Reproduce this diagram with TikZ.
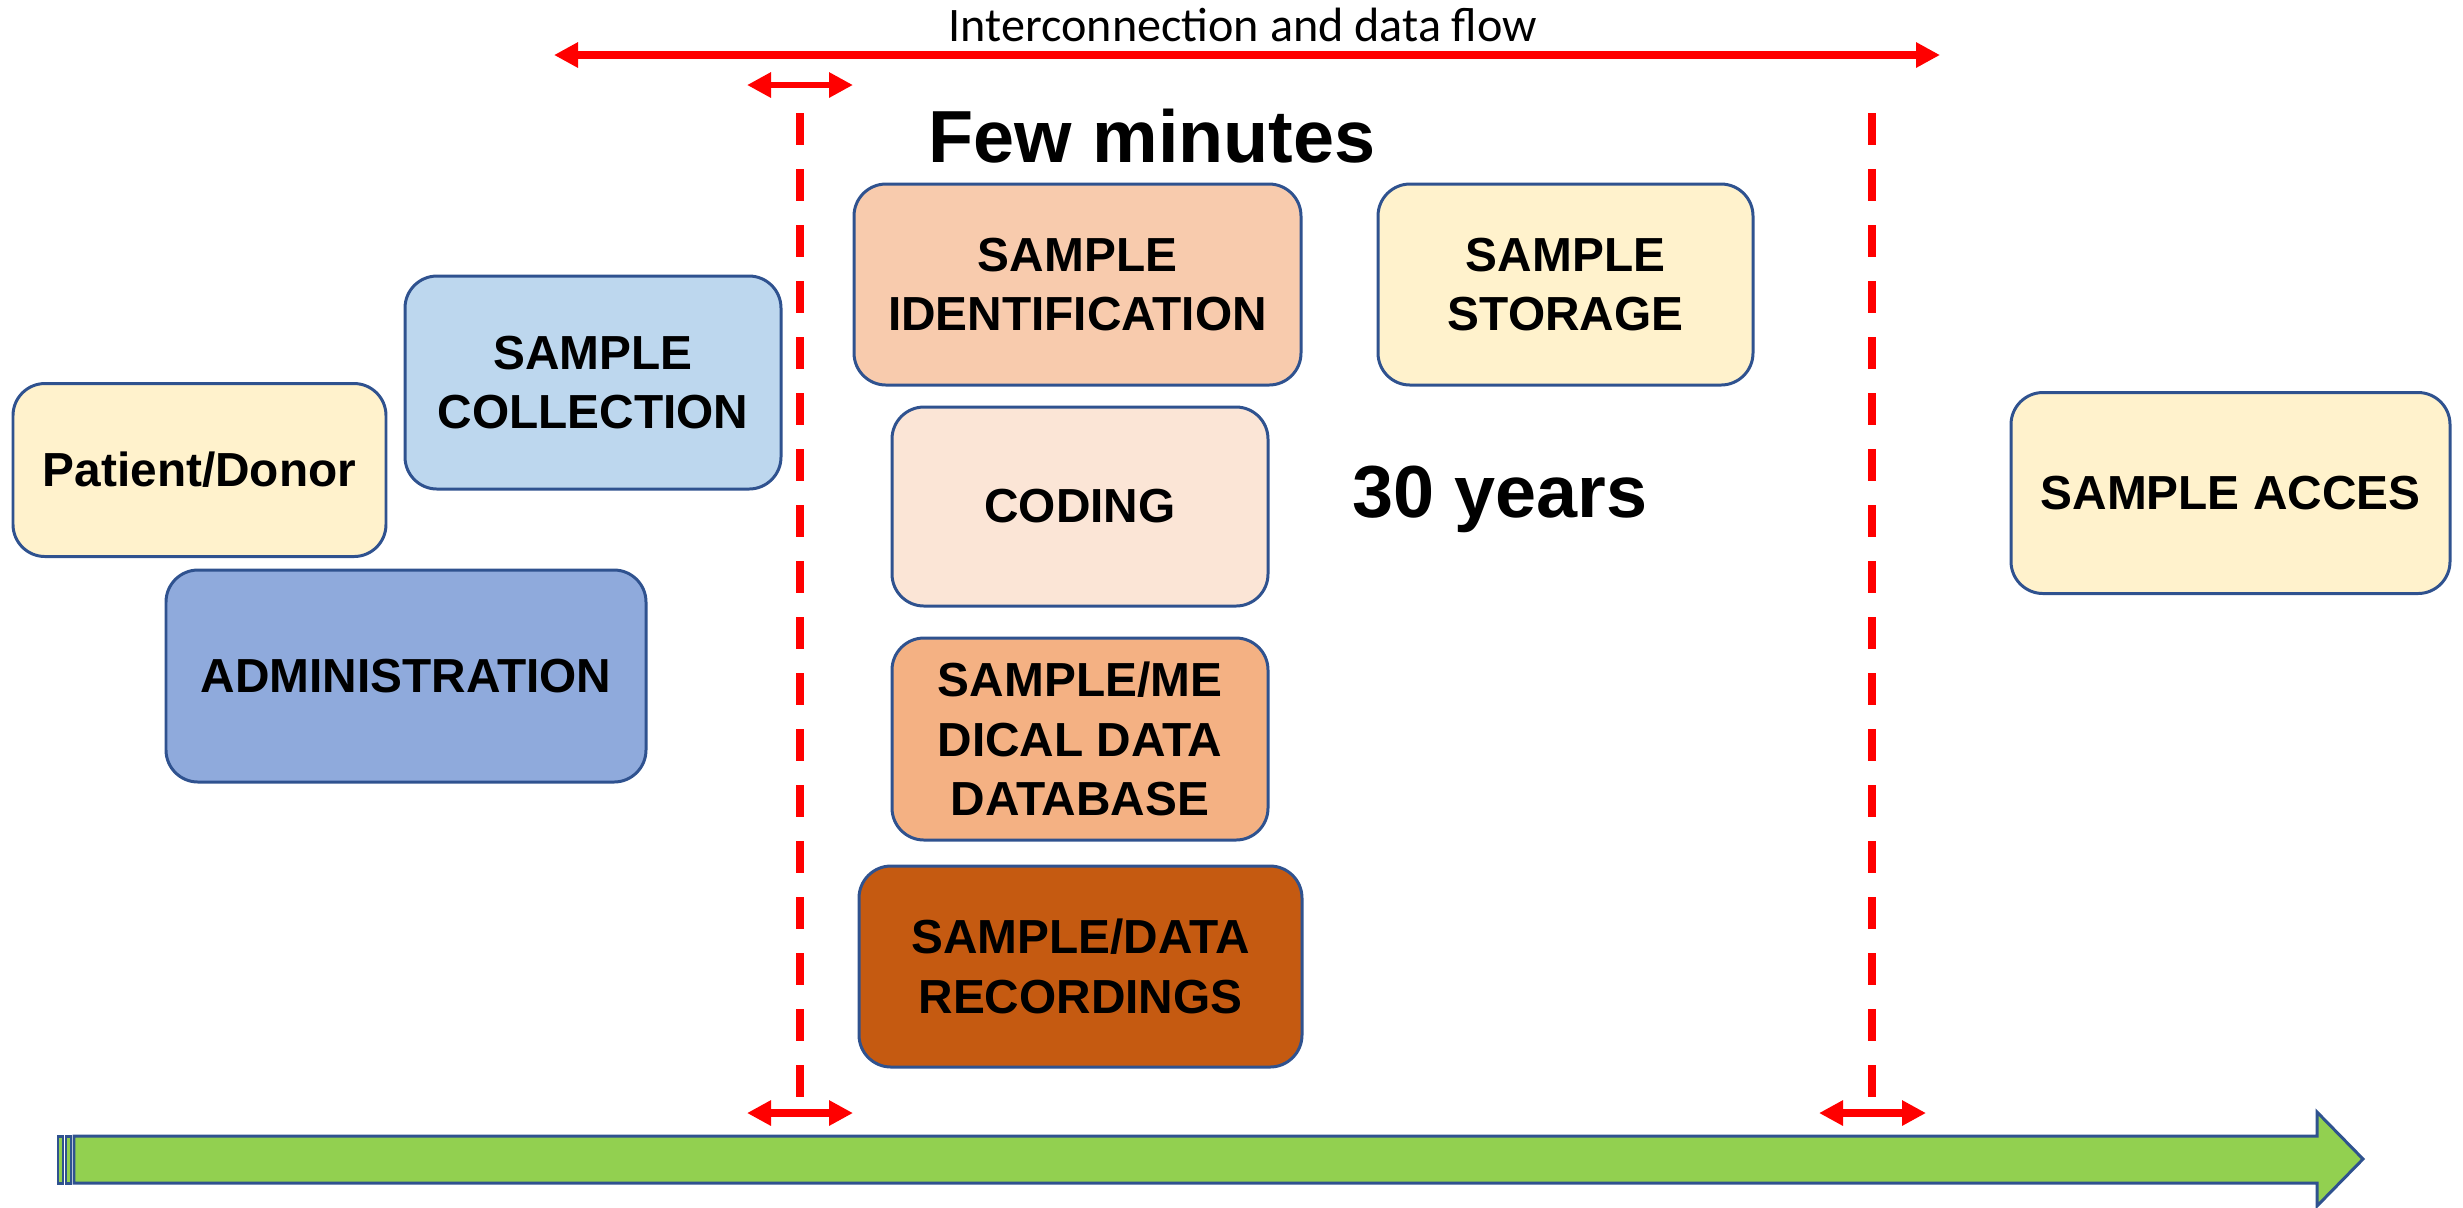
\documentclass[tikz,border=0pt]{standalone}
\usepackage{fontspec}
\setmainfont{Liberation Sans}
\newfontfamily\labelfont{Carlito}
\usetikzlibrary{arrows.meta}

\definecolor{edgeblue}{HTML}{2F528F}
\definecolor{creamfill}{HTML}{FFF2CC}
\definecolor{skyfill}{HTML}{BDD7EE}
\definecolor{steelfill}{HTML}{8FAADC}
\definecolor{peachfill}{HTML}{F8CBAD}
\definecolor{palepeach}{HTML}{FBE5D6}
\definecolor{apricot}{HTML}{F4B183}
\definecolor{rust}{HTML}{C55A11}
\definecolor{leafgreen}{HTML}{92D050}
\definecolor{flowred}{HTML}{FF0000}

\tikzset{
  stagebox/.style={draw=edgeblue, line width=0.85pt, rounded corners=3.2mm,
    align=center, inner sep=0pt, font=\fontsize{13.6}{17}\selectfont\bfseries},
  bigword/.style={font=\fontsize{21}{25}\selectfont\bfseries, inner sep=0pt},
  redflow/.style={draw=flowred, line width=0.75mm,
    {Triangle[length=2.4mm,width=2.4mm]}-{Triangle[length=2.4mm,width=2.4mm]}},
  redlimit/.style={draw=flowred, line width=0.8mm, dash pattern=on 3.2mm off 2.4mm},
  timebar/.style={draw=edgeblue, line width=0.85pt, fill=leafgreen, line join=miter}
}

\begin{document}
\begin{tikzpicture}[x=0.1mm, y=-0.1mm]
\useasboundingbox (0,0) rectangle (2463,1207);

% stage boxes
\node[stagebox, fill=creamfill, minimum width=37.3mm, minimum height=17.3mm] (patient) at (199.5,470) {Patient/Donor};
\node[stagebox, fill=skyfill, minimum width=37.6mm, minimum height=21.3mm] (collection) at (593,382.5) {SAMPLE\\COLLECTION};
\node[stagebox, fill=steelfill, minimum width=48mm, minimum height=21.2mm] (admin) at (406,676) {ADMINISTRATION};
\node[stagebox, fill=peachfill, minimum width=44.7mm, minimum height=20.1mm] (ident) at (1077.5,284.5) {SAMPLE\\IDENTIFICATION};
\node[stagebox, fill=palepeach, minimum width=37.6mm, minimum height=19.9mm] (coding) at (1080,506.5) {CODING};
\node[stagebox, fill=apricot, minimum width=37.6mm, minimum height=20.2mm] (database) at (1080,739) {SAMPLE/ME\\DICAL DATA\\DATABASE};
\node[stagebox, fill=rust, minimum width=44.3mm, minimum height=20.1mm] (recordings) at (1080.5,966.5) {SAMPLE/DATA\\RECORDINGS};
\node[stagebox, fill=creamfill, minimum width=37.5mm, minimum height=20.1mm] (storage) at (1565.5,284.5) {SAMPLE\\STORAGE};
\node[stagebox, fill=creamfill, minimum width=43.9mm, minimum height=20.1mm] (acces) at (2230.5,493) {SAMPLE ACCES};

% headline texts
\node[bigword, anchor=base] (fewmin) at (1152,162) {Few minutes};
\node[bigword, anchor=base] (years) at (1500,517) {30 years};
\node[font=\labelfont\fontsize{13.7}{15}\selectfont, inner sep=0pt, anchor=base] (flowlabel) at (1243,41) {Interconnection and data flow};

% interconnection arrow
\coordinate (flowL) at (554,55);
\coordinate (flowR) at (1940,55);
\draw[redflow, line width=0.8mm] (flowL) -- (flowR);

% short-time limit
\coordinate (shortTL) at (747,85);
\coordinate (shortTR) at (853,85);
\draw[redflow, line width=0.65mm] (shortTL) -- (shortTR);
\coordinate (shortTop) at (800,113);
\coordinate (shortBot) at (800,1097);
\draw[redlimit] (shortTop) -- (shortBot);
\coordinate (shortBL) at (747,1113);
\coordinate (shortBR) at (853,1113);
\draw[redflow] (shortBL) -- (shortBR);

% long-time limit
\coordinate (longTop) at (1872,113);
\coordinate (longBot) at (1872,1097);
\draw[redlimit] (longTop) -- (longBot);
\coordinate (longBL) at (1819,1113);
\coordinate (longBR) at (1926,1113);
\draw[redflow] (longBL) -- (longBR);

% time axis: striped block arrow
\draw[timebar] (58,1136) rectangle (63,1183);
\draw[timebar] (66,1136) rectangle (71,1183);
\draw[timebar] (74,1136) -- (2317,1136) -- (2317,1112) -- (2363,1159)
  -- (2317,1206) -- (2317,1183) -- (74,1183) -- cycle;
\end{tikzpicture}
\end{document}
